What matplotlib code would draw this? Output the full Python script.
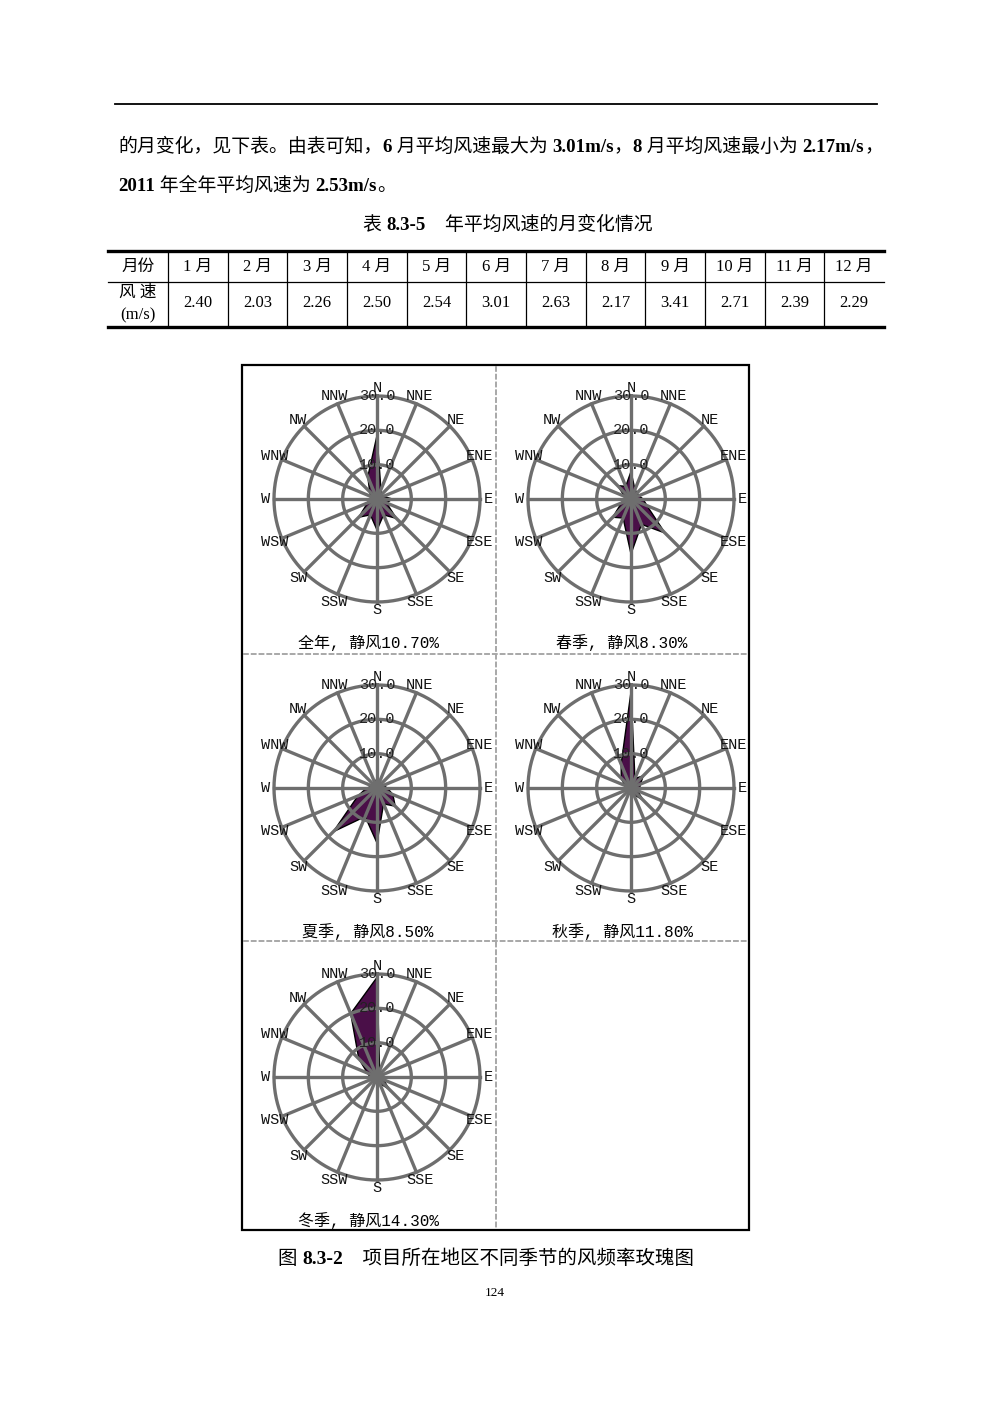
import numpy as np
import matplotlib
matplotlib.use('Agg')
import matplotlib.pyplot as plt
from matplotlib.patches import Rectangle

CJK = 'Noto Sans CJK SC'
SERIF = ['Liberation Serif', CJK]
MONO = ['Liberation Mono', CJK]

# ---- data ----
months = [1, 2, 3, 4, 5, 6, 7, 8, 9, 10, 11, 12]
speed = [2.40, 2.03, 2.26, 2.50, 2.54, 3.01, 2.63, 2.17, 3.41, 2.71, 2.39, 2.29]

directions = ['N', 'NNE', 'NE', 'ENE', 'E', 'ESE', 'SE', 'SSE',
              'S', 'SSW', 'SW', 'WSW', 'W', 'WNW', 'NW', 'NNW']
seasons = ['全年', '春季', '夏季', '秋季', '冬季']
calm = [10.70, 8.30, 8.50, 11.80, 14.30]

freq_year = [18.5, 3.0, 2.0, 2.0, 4.5, 3.0, 8.0, 5.0, 9.0, 5.0, 7.5, 3.0, 2.0, 2.0, 3.0, 7.0]
freq_spring = [8.0, 3.0, 2.5, 2.5, 3.5, 5.0, 14.0, 8.0, 16.0, 6.0, 7.5, 3.0, 2.0, 2.0, 5.5, 4.0]
freq_summer = [3.0, 2.0, 2.0, 2.0, 3.0, 5.0, 7.5, 5.0, 16.0, 9.0, 18.0, 6.0, 3.0, 1.5, 1.5, 1.5]
freq_autumn = [28.0, 3.0, 5.0, 3.0, 2.5, 2.0, 5.0, 2.0, 2.0, 1.5, 1.5, 1.0, 1.5, 2.0, 4.0, 7.5]
freq_winter = [29.0, 2.0, 2.0, 2.0, 2.0, 2.0, 5.0, 2.0, 2.0, 1.5, 1.5, 1.5, 2.0, 3.0, 7.5, 20.0]
freqs = [freq_year, freq_spring, freq_summer, freq_autumn, freq_winter]
rings = [10, 20, 30]

# ---- page ----
fig = plt.figure(figsize=(9.92, 14.03), dpi=100)
page = fig.add_axes([0, 0, 1, 1])
page.set_xlim(0, 992)
page.set_ylim(1403, 0)
page.axis('off')
renderer = fig.canvas.get_renderer()


def run(x, y, parts, size):
    # draw mixed regular/bold pieces one after another
    for s, bold in parts:
        t = page.text(x, y, s, fontsize=size, family=SERIF,
                      fontweight='bold' if bold else 'normal', va='baseline')
        x += t.get_window_extent(renderer).width
    return x


page.plot([115, 877], [104, 104], color='black', lw=1.3)

run(118, 152, [('的月变化，见下表。由表可知，', False), ('6', True),
               (' 月平均风速最大为 ', False), ('3.01m/s', True), ('，', False),
               ('8', True), (' 月平均风速最小为 ', False), ('2.17m/s', True),
               ('，', False)], 13.6)
run(118, 191, [('2011', True), (' 年全年平均风速为 ', False), ('2.53m/s', True),
               ('。', False)], 13.6)
run(363, 230, [('表 ', False), ('8.3-5', True), ('    年平均风速的月变化情况', False)], 13.6)

# ---- table ----
tl, tr = 108, 884
c0 = 168
cw = (tr - c0) / len(months)
page.plot([tl, tr], [251, 251], color='black', lw=2.4)
page.plot([tl, tr], [282, 282], color='black', lw=0.9)
page.plot([tl, tr], [327, 327], color='black', lw=2.4)
for k in range(len(months)):
    x = c0 + k * cw
    page.plot([x, x], [252, 326], color='black', lw=0.9)
page.text(138, 267, '月份', fontsize=12, family=SERIF, ha='center', va='center')
page.text(138, 293, '风 速', fontsize=12, family=SERIF, ha='center', va='center')
page.text(138, 315, '(m/s)', fontsize=12, family=SERIF, ha='center', va='center')
for k, (m, v) in enumerate(zip(months, speed)):
    xc = c0 + (k + 0.5) * cw
    page.text(xc, 267, f'{m} 月', fontsize=12, family=SERIF, ha='center', va='center')
    page.text(xc, 303, f'{v:.2f}', fontsize=12, family=SERIF, ha='center', va='center')

# ---- figure frame ----
page.add_patch(Rectangle((242, 365), 507, 865, fill=False, ec='black', lw=1.6))
dash = dict(color='#a8a8a8', lw=1.4, ls=(0, (3, 1)))
page.plot([496, 496], [366, 1229], **dash)
page.plot([243, 748], [654, 654], **dash)
page.plot([243, 748], [941, 941], **dash)

# ---- roses ----
theta = np.deg2rad(np.arange(len(directions)) * 22.5)
circle = np.linspace(0, 2 * np.pi, 361)
grid_c = '#6e6e6e'
R = 103
col_x = [377, 631]
row_y = [499, 788, 1077]

for i, (name, cv, fr) in enumerate(zip(seasons, calm, freqs)):
    cx = col_x[i % 2]
    cy = row_y[i // 2]
    ax = fig.add_axes([(cx - R) / 992, 1 - (cy + R) / 1403, 2 * R / 992, 2 * R / 1403],
                      projection='polar')
    ax.set_theta_zero_location('N')
    ax.set_theta_direction(-1)
    ax.set_ylim(0, 30)
    ax.axis('off')
    th = np.append(theta, theta[0])
    vals = np.append(fr, fr[0])
    ax.fill(th, vals, facecolor='#4a0f48', edgecolor='black', lw=1.0, zorder=1)
    for r in rings:
        ax.plot(circle, np.full_like(circle, r), color=grid_c, lw=2.4, zorder=2,
                clip_on=False)
    for t in theta:
        ax.plot([t, t], [0, 30], color=grid_c, lw=2.4, zorder=2, clip_on=False)
    for r in rings:
        ax.text(0, r, f'{r:.1f}', fontsize=11, family=MONO, color='#222222',
                ha='center', va='center', zorder=3)
    for t, d in zip(theta, directions):
        ax.text(t, 32.4, d, fontsize=11, family=MONO, color='#111111',
                ha='center', va='center', clip_on=False, zorder=3)
    page.text(cx - 9, cy + 144, f'{name}, 静风{cv:.2f}%', fontsize=11.5,
              family=MONO, ha='center', va='center')

run(278, 1264, [('图 ', False), ('8.3-2', True),
                ('    项目所在地区不同季节的风频率玫瑰图', False)], 14)
page.text(495, 1293, '124', fontsize=9.5, family=SERIF, ha='center', va='center')

fig.savefig('out.png', dpi=100, facecolor='white')
